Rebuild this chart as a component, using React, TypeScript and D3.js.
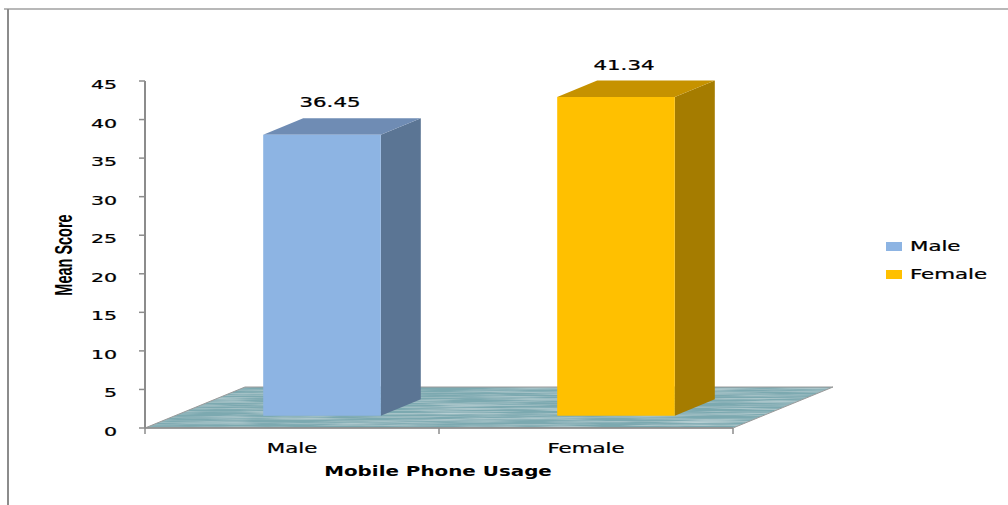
import React from 'react'
import * as d3 from 'd3'

// chart data
const categories = ['Male', 'Female']
const values = [36.45, 41.34]
const valueLabels = ['36.45', '41.34']
const frontColors = ['#8db4e3', '#ffc000']
const topColors = ['#6f8cb4', '#c69200']
const sideColors = ['#5b7594', '#a57c00']
const yTicks = [0, 5, 10, 15, 20, 25, 30, 35, 40, 45]

const App = () => {
  const width = 1008,
    height = 505

  // plot frame (front plane)
  const left = 145,
    right = 733,
    bottom = 428,
    top = 81

  // depth of the floor (oblique projection)
  const depth = { dx: 100, dy: -41 }
  const off = f => [depth.dx * f, depth.dy * f]

  const sx = 1.58 // horizontal stretch of the source text
  const font = 'DejaVu Sans, Verdana, sans-serif'

  const y = d3.scaleLinear().domain([0, 45]).range([bottom, top])
  const x = d3
    .scaleBand()
    .domain(categories)
    .range([left, right])
    .paddingInner(0.6)
    .paddingOuter(0.3)

  const bandStep = x.step()

  // floor parallelogram
  const [fdx, fdy] = off(1)
  const floor = d3.path()
  floor.moveTo(left, bottom)
  floor.lineTo(right, bottom)
  floor.lineTo(right + fdx, bottom + fdy)
  floor.lineTo(left + fdx, bottom + fdy)
  floor.closePath()

  const txt = (key, tx, ty, s, opts = {}) => (
    <text
      key={key}
      transform={`translate(${tx},${ty}) scale(${opts.sx || sx},1)`}
      textAnchor={opts.anchor || 'middle'}
      fontFamily={font}
      fontSize={opts.size || 13}
      fontWeight={opts.bold ? 'bold' : 'normal'}
      stroke={opts.bold ? 'none' : '#000'}
      strokeWidth={opts.bold ? 0 : 0.25}
      fill="#000"
    >
      {s}
    </text>
  )

  // bars as boxes from depth 0.3 to 0.7
  const bars = categories.map((c, i) => {
    const [ax, ay] = off(0.3)
    const [bx, by] = off(0.7)
    const x0 = x(c) + ax,
      x1 = x(c) + x.bandwidth() + ax
    const yb = y(0) + ay,
      yt = y(values[i]) + ay
    const ddx = bx - ax,
      ddy = by - ay
    const front = `M${x0},${yb}L${x1},${yb}L${x1},${yt}L${x0},${yt}Z`
    const topFace = `M${x0},${yt}L${x1},${yt}L${x1 + ddx},${yt + ddy}L${x0 + ddx},${yt + ddy}Z`
    const side = `M${x1},${yb}L${x1 + ddx},${yb + ddy}L${x1 + ddx},${yt + ddy}L${x1},${yt}Z`
    return (
      <g key={c}>
        <path d={side} fill={sideColors[i]} />
        <path d={topFace} fill={topColors[i]} />
        <path d={front} fill={frontColors[i]} />
        {txt('v' + i, (x0 + x1) / 2 + 8, yt + ddy - 11, valueLabels[i], { size: 13.5 })}
      </g>
    )
  })

  const yLabels = yTicks.map(d => (
    <g key={d}>
      <line x1={left - 6} x2={left} y1={y(d)} y2={y(d)} stroke="#8c8c8c" strokeWidth={1.5} />
      {txt('t' + d, 117, y(d) + 8, d, { anchor: 'end', size: 13 })}
    </g>
  ))

  const xTicks = [left, left + bandStep, right].map((p, i) => (
    <line key={i} x1={p} x2={p} y1={bottom} y2={bottom + 6} stroke="#8c8c8c" strokeWidth={1.5} />
  ))

  return (
    <svg
      width={width}
      height={height}
      style={{ position: 'absolute', left: 0, top: 0, background: '#fff' }}
    >
      <defs>
        <filter id="floorTex" x="0" y="0" width="100%" height="100%">
          <feTurbulence type="fractalNoise" baseFrequency="0.012 0.6" numOctaves="3" seed="7" result="n" />
          <feColorMatrix
            in="n"
            type="matrix"
            values="0 0 0 0 0.9  0 0 0 0 0.97  0 0 0 0 0.98  0 0 0 0.8 -0.3"
            result="lite"
          />
          <feComposite in="lite" in2="SourceGraphic" operator="in" result="clipLite" />
          <feMerge>
            <feMergeNode in="SourceGraphic" />
            <feMergeNode in="clipLite" />
          </feMerge>
        </filter>
      </defs>

      {/* outer frame */}
      <line x1={4} x2={1008} y1={9} y2={9} stroke="#a0a0a0" strokeWidth={1.5} />
      <line x1={8} x2={8} y1={9} y2={505} stroke="#8c8c8c" strokeWidth={2} />

      {/* floor */}
      <path d={floor.toString()} fill="#7ca9b0" filter="url(#floorTex)" />
      <path d={floor.toString()} fill="none" stroke="#9a9a9a" strokeWidth={1} />

      {/* axes */}
      <line x1={left} x2={left} y1={top} y2={bottom} stroke="#8c8c8c" strokeWidth={2} />
      <line x1={left} x2={right} y1={bottom} y2={bottom} stroke="#8c8c8c" strokeWidth={1.5} />
      {xTicks}
      {yLabels}

      {bars}

      {/* category labels */}
      {categories.map(c => txt('c' + c, x(c) + x.bandwidth() / 2, 453, c, { size: 13.5 }))}

      {/* axis titles */}
      {txt('xt', (left + right) / 2 - 1, 476, 'Mobile Phone Usage', { size: 14, bold: true, sx: 1.42 })}
      <text
        transform={`translate(72,255) scale(1.6,1) rotate(-90)`}
        textAnchor="middle"
        fontFamily="Liberation Sans Narrow, Arial Narrow, sans-serif"
        fontWeight="bold"
        fontSize={14.5}
      >
        Mean Score
      </text>

      {/* legend */}
      {categories.map((c, i) => (
        <g key={c}>
          <rect x={886} y={242 + i * 28} width={16} height={9} fill={frontColors[i]} />
          {txt('l' + c, 910, 251 + i * 28, c, { anchor: 'start', size: 13.5 })}
        </g>
      ))}
    </svg>
  )
}

export default App
